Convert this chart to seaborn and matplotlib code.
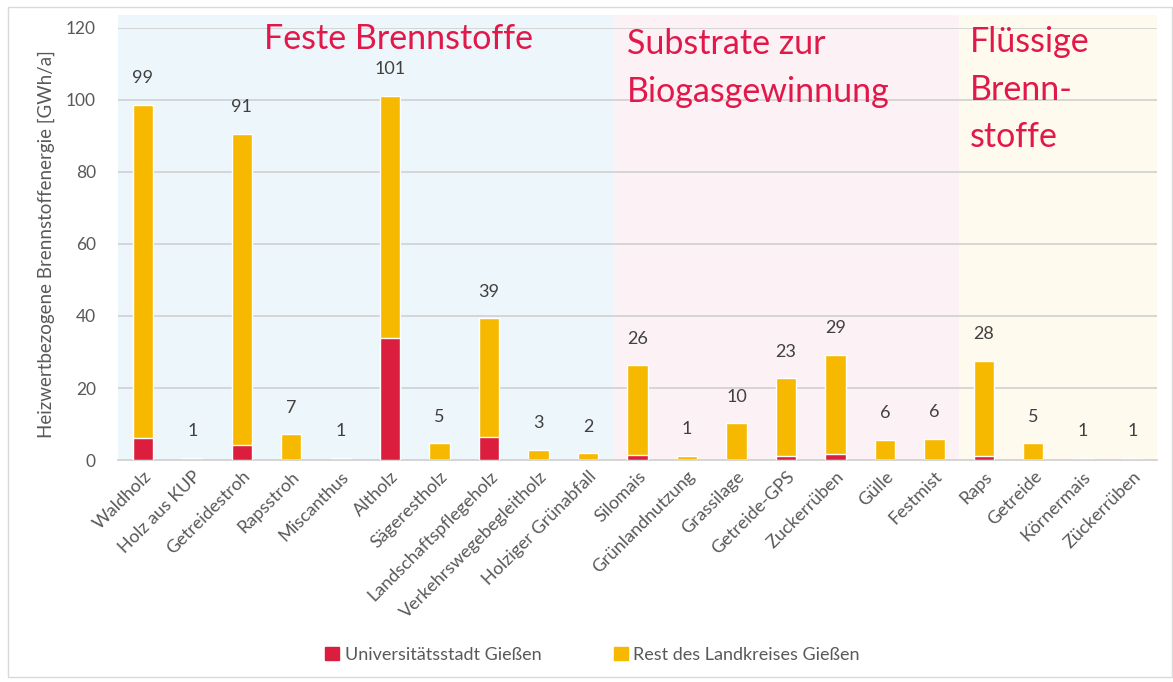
import matplotlib
matplotlib.use("Agg")
import matplotlib.pyplot as plt
import seaborn as sns
import pandas as pd
from matplotlib.patches import Rectangle

# Data (GWh/a)
categories = ["Waldholz", "Holz aus KUP", "Getreidestroh", "Rapsstroh", "Miscanthus",
              "Altholz", "Sägerestholz", "Landschaftspflegeholz", "Verkehrswegebegleitholz",
              "Holziger Grünabfall", "Silomais", "Grünlandnutzung", "Grassilage",
              "Getreide-GPS", "Zuckerrüben", "Gülle", "Festmist", "Raps", "Getreide",
              "Körnermais", "Zückerrüben"]
tick_labels = ["Waldholz", "Holz aus KUP", "Getreidestroh", "Rapsstroh", "Miscanthus",
               "Altholz", "Sägerestholz", "Landschaftspflegeholz", "Verkehrswegebegleitholz",
               "Holziger Grünabfall", "Silomais", "Grünlandnutzung", "Grassilage",
               "Getreide-GPS", "Zuckerrüben", "Gülle", "Festmist", "Raps", "Getreide",
               "Körnermais", "Zückerrüben"]
stadt = [6.0, 0.0, 4.2, 0.0, 0.0, 34.0, 0.0, 6.3, 0.0, 0.0,
         1.5, 0.0, 0.0, 1.1, 1.7, 0.0, 0.0, 1.2, 0.0, 0.0, 0.0]
gesamt = [98.7, 0.6, 90.6, 7.2, 0.6, 101.2, 4.6, 39.4, 2.9, 1.9,
          26.3, 1.2, 10.2, 22.7, 29.2, 5.6, 5.9, 27.6, 4.6, 0.6, 0.6]
groups = [("Feste Brennstoffe", -0.5, 9.5, "#edf6fa"),
          ("Substrate zur\nBiogasgewinnung", 9.5, 16.5, "#fcf1f4"),
          ("Flüssige\nBrenn-\nstoffe", 16.5, 20.5, "#fffaee")]

red = "#dc1e3e"
orange = "#f7b900"
grey = "#595959"

df = pd.DataFrame({"kategorie": categories, "stadt": stadt, "gesamt": gesamt})

sns.set_theme(style="white")
plt.rcParams["font.family"] = ["Lato", "DejaVu Sans"]

fig = plt.figure(figsize=(11.73, 6.82), dpi=100)
ax = fig.add_axes([0.1006, 0.3255, 0.8858, 0.6335])

# coloured group backgrounds
for name, x0, x1, col in groups:
    ax.axvspan(x0, x1, ymin=0, ymax=1.03, color=col, zorder=0, lw=0, clip_on=False)

for y in range(20, 121, 20):
    ax.axhline(y, color="#d0d0d0", lw=1.2, zorder=1)

sns.barplot(data=df, x="kategorie", y="gesamt", color=orange, width=0.41,
            saturation=1, ax=ax, zorder=2)
sns.barplot(data=df, x="kategorie", y="stadt", color=red, width=0.41,
            saturation=1, ax=ax, zorder=3)

for i, v in enumerate(gesamt):
    ax.annotate(f"{round(v)}", (i, v), xytext=(0, 19), textcoords="offset points",
                ha="center", va="center", fontsize=13, color="#404040")

# group titles
title_pos = [(2.45, 121.5), (9.78, 120.0), (16.72, 120.5)]
for (name, x0, x1, col), (tx, ty) in zip(groups, title_pos):
    ax.text(tx, ty, name, color="#e2184a", fontsize=24.5, ha="left", va="top",
            linespacing=1.6)

ax.set_xlim(-0.5, 20.5)
ax.set_ylim(0, 120)
ax.set_yticks(range(0, 121, 20))
ax.set_xticks(range(len(categories)))
ax.set_xticklabels(tick_labels, rotation=45, ha="right", rotation_mode="anchor",
                   fontsize=13, color=grey)
ax.tick_params(axis="y", labelsize=12.5, colors=grey, length=0, pad=16)
ax.tick_params(axis="x", length=0, pad=6)
ax.set_xlabel("")
ax.set_ylabel("Heizwertbezogene Brennstoffenergie [GWh/a]", fontsize=13.5, color=grey,
              labelpad=8)
for s in ["top", "right", "left"]:
    ax.spines[s].set_visible(False)
ax.spines["bottom"].set_color("#d0d0d0")
ax.set_facecolor("none")

handles = [Rectangle((0, 0), 1, 1, color=red), Rectangle((0, 0), 1, 1, color=orange)]
fig.legend(handles, ["Universitätsstadt Gießen", "Rest des Landkreises Gießen"],
           loc="center", bbox_to_anchor=(0.505, 0.04), ncol=2, frameon=False,
           fontsize=13, handlelength=0.8, handleheight=0.8, handletextpad=0.3,
           columnspacing=4, labelcolor=grey)

# thin frame around the whole chart
fig.patches.append(Rectangle((8 / 1173, 5 / 682), 1164 / 1173, 670 / 682,
                             transform=fig.transFigure, fill=False,
                             edgecolor="#d9d9d9", lw=1))

fig.savefig("out.png", dpi=100)
